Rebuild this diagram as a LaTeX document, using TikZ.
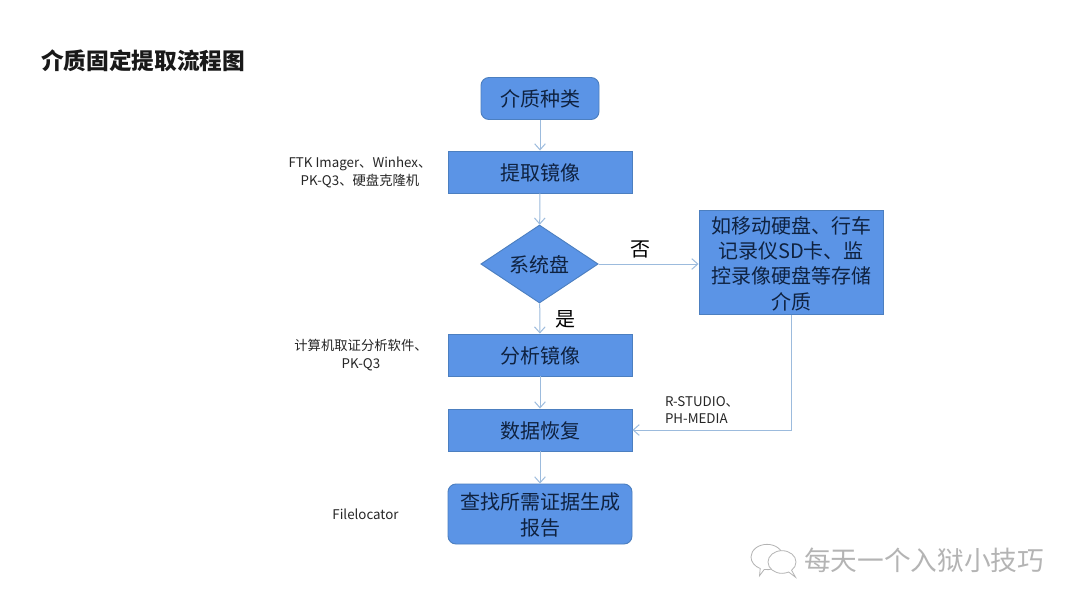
\documentclass[tikz,border=0pt]{standalone}
\usepackage{fontspec}
\setmainfont{Noto Sans CJK SC}
\usetikzlibrary{shapes.geometric,shapes.callouts,arrows.meta}
\definecolor{boxblue}{HTML}{5B94E6}
\definecolor{boxline}{HTML}{4C7FC0}
\definecolor{linkblue}{HTML}{9CBBDD}
\definecolor{boxtext}{HTML}{0F2240}
\definecolor{marktext}{HTML}{B4B4B4}
\tikzset{
  flowbox/.style={draw=boxline,fill=boxblue,line width=0.7pt,text=boxtext,font=\fontsize{15}{19}\selectfont,
    minimum width=138pt,minimum height=31.5pt,inner sep=0pt,align=center,text depth=0pt,yshift=0pt},
  roundbox/.style={flowbox,rounded corners=6pt},
  decision/.style={flowbox,diamond,aspect=1.5,minimum width=88pt,minimum height=58.5pt},
  toollabel/.style={font=\fontsize{10}{13}\selectfont,text=black!85,align=center,inner sep=0pt},
  branchlabel/.style={font=\fontsize{15}{18}\selectfont,text=black,inner sep=0pt},
  link/.style={draw=linkblue,line width=0.75pt,-{Straight Barb[length=4.5pt,width=8pt]}}
}
\begin{document}
\begin{tikzpicture}[x=0.75pt,y=-0.75pt]
	\useasboundingbox[fill=white] (0,0) rectangle (1080,608);

	% Title
	\node[font=\fontsize{17}{20}\selectfont\bfseries,text=black!90,inner sep=0pt] (title) at (143,61) {介质固定提取流程图};

	% Boxes of the main flow
	\node[roundbox,minimum width=88.5pt] (kinds) at (540,98.5) {介质种类};
	\node[flowbox] (extract) at (540,172) {提取镜像};
	\node[decision] (sysdisk) at (539.5,264) {系统盘};
	\node[flowbox] (analyse) at (540,355) {分析镜像};
	\node[flowbox] (recover) at (540,430) {数据恢复};
	\node[roundbox,minimum height=45pt] (report) at (540,514) {查找所需证据生成\\报告};

	% Box of the other branch
	\node[flowbox,minimum height=78.5pt] (media) at (791,262.5) {如移动硬盘、行车\\记录仪SD卡、监\\控录像硬盘等存储\\介质};

	% Tools beside the boxes
	\node[toollabel] (tools1) at (360,172.5) {FTK Imager、Winhex、\\PK-Q3、硬盘克隆机};
	\node[toollabel] (tools2) at (361,355) {计算机取证分析软件、\\PK-Q3};
	\node[toollabel,align=left] (tools3) at (702,410) {R-STUDIO、\\PH-MEDIA};
	\node[toollabel] (tools4) at (365.5,514.5) {Filelocator};

	% Connectors
	\draw[link] (kinds) -- (extract);
	\draw[link] (extract) -- (sysdisk);
	\draw[link] (sysdisk) -- (analyse);
	\draw[link] (analyse) -- (recover);
	\draw[link] (recover) -- (report);
	\draw[link] (sysdisk.east) -- (sysdisk.east -| media.west);
	\draw[link] (media.south) |- (recover.east);

	% Branch labels
	\node[branchlabel] (no) at (640,249) {否};
	\node[branchlabel] (yes) at (565,319) {是};

	% Watermark
	\node[ellipse callout,draw=marktext,fill=white,line width=0.6pt,minimum width=24pt,minimum height=19pt,inner sep=0pt,
		callout relative pointer={(-2pt,-5pt)}] (bubble1) at (767,557) {};
	\node[ellipse callout,draw=marktext,fill=white,line width=0.6pt,minimum width=21pt,minimum height=17pt,inner sep=0pt,
		callout relative pointer={(4pt,-4.5pt)}] (bubble2) at (782,562) {};
	\node[font=\fontsize{20}{24}\selectfont,text=marktext,inner sep=0pt] (mark) at (924,560) {每天一个入狱小技巧};
\end{tikzpicture}
\end{document}
